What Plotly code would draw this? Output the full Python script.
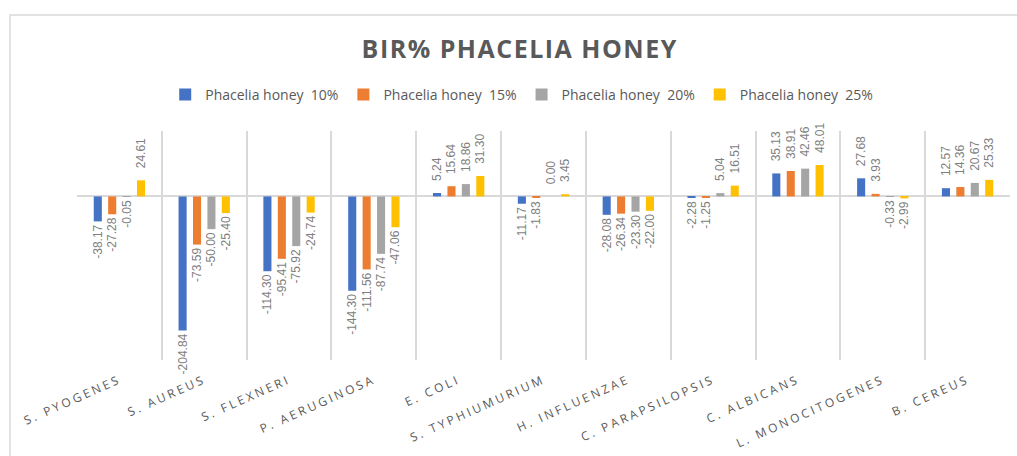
import plotly.graph_objects as go

# categories (bacteria / yeasts)
strains = ['S. PYOGENES', 'S. AUREUS', 'S. FLEXNERI', 'P. AERUGINOSA', 'E. COLI',
           'S. TYPHIUMURIUM', 'H. INFLUENZAE', 'C. PARAPSILOPSIS', 'C. ALBICANS',
           'L. MONOCITOGENES', 'B. CEREUS']

# BIR% for each honey concentration
honey_10 = [-38.17, -204.84, -114.30, -144.30, 5.24, -11.17, -28.08, -2.28, 35.13, 27.68, 12.57]
honey_15 = [-27.28, -73.59, -95.41, -111.56, 15.64, -1.83, -26.34, -1.25, 38.91, 3.93, 14.36]
honey_20 = [-0.05, -50.00, -75.92, -87.74, 18.86, 0.00, -23.30, 5.04, 42.46, -0.33, 20.67]
honey_25 = [24.61, -25.40, -24.74, -47.06, 31.30, 3.45, -22.00, 16.51, 48.01, -2.99, 25.33]

series_names = ['Phacelia honey  10%', 'Phacelia honey  15%',
                'Phacelia honey  20%', 'Phacelia honey  25%']
series_values = [honey_10, honey_15, honey_20, honey_25]
colors = ['#4472C4', '#ED7D31', '#A5A5A5', '#FFC000']

GRID = '#d9d9d9'
TEXT = '#595959'


def bar_labels(vals):
    # Excel leaves a bit more room above positive bars than below negative ones
    return ['\u2007\u2009%.2f' % v if v >= 0 else '%.2f' % v for v in vals]


fig = go.Figure()

for name, vals, col in zip(series_names, series_values, colors):
    fig.add_trace(go.Bar(
        name=name, x=strains, y=vals,
        marker=dict(color=col, line=dict(width=0)),
        text=bar_labels(vals),
        textposition='outside',
        textangle=-90,
        constraintext='none',
        cliponaxis=False,
        textfont=dict(family='Liberation Sans', size=12, color='#7f7f7f'),
        hovertemplate='%{x}<br>%{y:.2f}<extra>' + name + '</extra>',
    ))

fig.update_layout(
    width=1017, height=456,
    margin=dict(l=77, r=7, t=131, b=96, autoexpand=False),
    paper_bgcolor='white', plot_bgcolor='white',
    barmode='group', bargap=0.32, bargroupgap=0.44,
    title=dict(text='<b>BIR% PHACELIA HONEY</b>', x=0.511, xanchor='center',
               y=0.893, yanchor='middle',
               font=dict(family='Open Sans', size=25, color=TEXT)),
    legend=dict(orientation='h', x=0.513, xanchor='center', xref='container',
                y=0.792, yanchor='middle', yref='container',
                font=dict(family='Open Sans', size=14, color=TEXT),
                itemwidth=30, traceorder='normal'),
    font=dict(family='Open Sans', color=TEXT),
)

fig.update_xaxes(
    type='category', range=[-0.5, 10.5], automargin=False,
    showgrid=True, gridcolor=GRID, gridwidth=1.5, tickson='boundaries',
    showline=False, ticks='', tickangle=-24, ticklabelstandoff=10,
    tickfont=dict(family='Open Sans', size=12, color=TEXT),
)

fig.update_yaxes(
    range=[-250, 100], showgrid=False, showticklabels=False, ticks='',
    showline=False, zeroline=True, zerolinecolor=GRID, zerolinewidth=1.5,
)

# outer chart frame (only top and left edges fall inside the picture)
fig.add_shape(type='rect', xref='paper', yref='paper',
              x0=-0.0718, x1=1.05, y0=-0.6, y1=1.5066,
              line=dict(color=GRID, width=1.5), layer='below')

# no page margin, plus Excel-like letter spacing for the title and category labels
spacing_js = '''
document.body.style.margin = '0';
var gd = document.getElementById('{plot_id}');
function spaceLetters() {
    gd.querySelectorAll('.xtick text').forEach(function (t) { t.style.letterSpacing = '2.8px'; });
    gd.querySelectorAll('.gtitle').forEach(function (t) { t.style.letterSpacing = '1.5px'; });
}
spaceLetters();
gd.on('plotly_afterplot', spaceLetters);
'''

fig.write_html('out.html', post_script=spacing_js, config={'displayModeBar': False})
